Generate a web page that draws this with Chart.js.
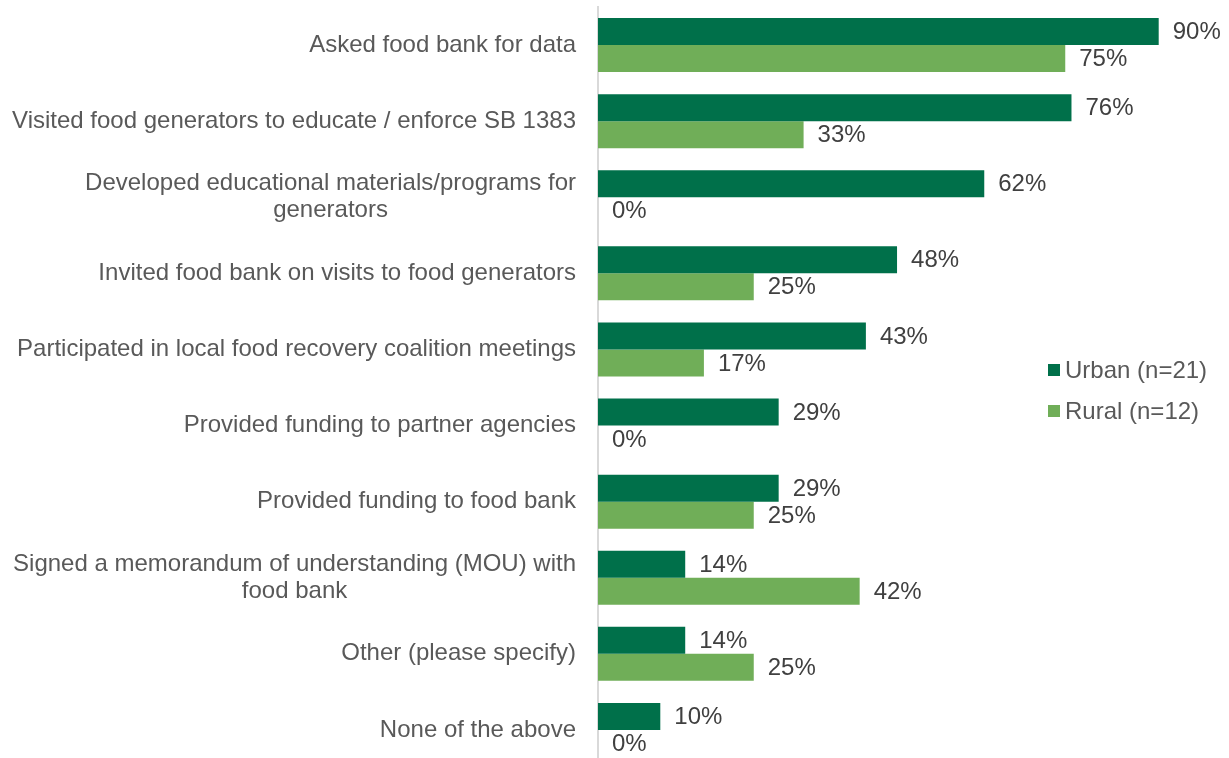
<!DOCTYPE html>
<html>
<head>
<meta charset="utf-8">
<script src="https://cdn.jsdelivr.net/npm/chart.js@4/dist/chart.umd.min.js"></script>
<style>
  html, body { margin: 0; padding: 0; background: #fff; overflow: hidden; }
  #wrap { position: relative; width: 1229px; height: 768px; }
</style>
</head>
<body>
<div id="wrap"><canvas id="chart"></canvas></div>
<script>
// Categories (multi-line ones split into arrays)
const categories = [
    'Asked food bank for data',
    'Visited food generators to educate / enforce SB 1383',
    ['Developed educational materials/programs for', 'generators'],
    'Invited food bank on visits to food generators',
    'Participated in local food recovery coalition meetings',
    'Provided funding to partner agencies',
    'Provided funding to food bank',
    ['Signed a memorandum of understanding (MOU) with', 'food bank'],
    'Other (please specify)',
    'None of the above'
];
const seriesNames = ['Urban (n=21)', 'Rural (n=12)'];
const urbanValues = [90, 76, 62, 48, 43, 29, 29, 14, 14, 10];
const ruralValues = [75, 33, 0, 25, 17, 0, 25, 42, 25, 0];

const DARK = '#00704A';
const LIGHT = '#70AE58';
const FONT = "'Liberation Sans', Arial, sans-serif";
const FONT_SIZE = 24;

// draws category labels, value labels and the legend
const overlay = {
    id: 'overlay',
    afterDatasetsDraw(chart) {
        const ctx = chart.ctx;
        const yScale = chart.scales.y;
        ctx.save();
        ctx.font = `${FONT_SIZE}px ${FONT}`;
        ctx.textBaseline = 'middle';

        // category labels: block right-aligned, lines centered on each other
        ctx.fillStyle = '#595959';
        const lineH = 27;
        categories.forEach((cat, i) => {
            const lines = Array.isArray(cat) ? cat : [cat];
            const widths = lines.map(l => ctx.measureText(l).width);
            const maxW = Math.max(...widths);
            const cx = 576 - maxW / 2;
            const yc = yScale.getPixelForTick(i);
            const y0 = yc - (lines.length - 1) * lineH / 2;
            ctx.textAlign = 'center';
            lines.forEach((l, j) => ctx.fillText(l, cx, y0 + j * lineH));
        });

        // value labels at bar ends
        ctx.fillStyle = '#404040';
        ctx.textAlign = 'left';
        chart.data.datasets.forEach((ds, di) => {
            chart.getDatasetMeta(di).data.forEach((bar, i) => {
                ctx.fillText(ds.data[i] + '%', bar.x + 14, bar.y + 1);
            });
        });

        // legend
        chart.data.datasets.forEach((ds, di) => {
            const y = 370 + di * 41;
            ctx.fillStyle = ds.backgroundColor;
            ctx.fillRect(1048, y - 6, 12, 12);
            ctx.fillStyle = '#595959';
            ctx.fillText(ds.label, 1065, y + 1);
        });
        ctx.restore();
    }
};

new Chart(document.getElementById('chart'), {
    type: 'bar',
    data: {
        labels: categories,
        datasets: [
            { label: seriesNames[0], data: urbanValues, backgroundColor: DARK },
            { label: seriesNames[1], data: ruralValues, backgroundColor: LIGHT }
        ]
    },
    options: {
        indexAxis: 'y',
        responsive: true,
        maintainAspectRatio: false,
        animation: false,
        categoryPercentage: 0.71,
        barPercentage: 1,
        layout: { padding: { top: 7, right: 8, bottom: 0, left: 0 } },
        plugins: {
            legend: { display: false },
            tooltip: { enabled: false }
        },
        scales: {
            x: {
                display: false,
                min: 0,
                max: 100
            },
            y: {
                grid: { display: false, drawTicks: false },
                border: { display: true, color: '#d9d9d9', width: 2 },
                ticks: { display: false },
                afterFit(scale) { scale.width = 598; }
            }
        }
    },
    plugins: [overlay]
});
</script>
</body>
</html>
